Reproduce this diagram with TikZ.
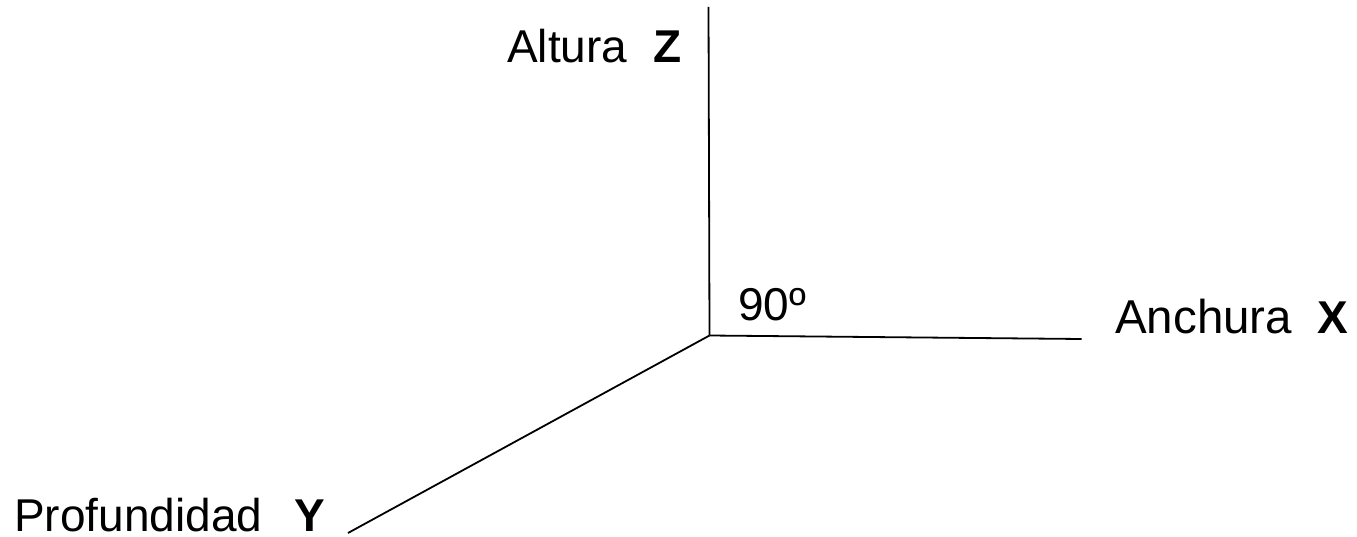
\documentclass[tikz,border=0pt]{standalone}
\usepackage{fontspec}
\setmainfont{Liberation Sans}
\begin{document}
\begin{tikzpicture}[x=1pt,y=-1pt,
  axis/.style={line width=1.8pt,black},
  lbl/.style={font=\fontsize{46}{52}\selectfont,inner sep=0pt,anchor=base west},
  bold/.style={lbl,font=\fontsize{46}{52}\selectfont\bfseries}]
\useasboundingbox (0,0) rectangle (1357,537);
\coordinate (O) at (709.5,335.5);
\coordinate (Zend) at (708.5,7);
\coordinate (Xend) at (1081.5,339);
\coordinate (Yend) at (348,533);
\draw[axis] (O) -- (Zend);
\draw[axis] (O) -- (Xend);
\draw[axis] (O) -- (Yend);
\node[lbl] (zl) at (507,63) {Altura};
\node[bold] (zb) at (653,63) {Z};
\node[lbl,font=\fontsize{47.5}{52}\selectfont] (xl) at (1115,334) {Anchura};
\node[bold] (xb) at (1317,334) {X};
\node[lbl] (yl) at (14,531) {Profundidad};
\node[bold] (yb) at (294,531) {Y};
\node[lbl] (ang) at (738,320) {90º};
\end{tikzpicture}
\end{document}
